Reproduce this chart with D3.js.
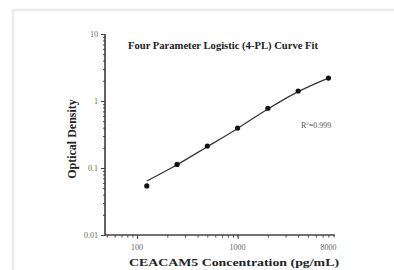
<!DOCTYPE html>
<html>
<head>
<meta charset="utf-8">
<script src="https://cdn.jsdelivr.net/npm/d3@7"></script>
<style>
body { margin: 0; background: #fff; }
svg { display: block; }
text { font-family: "Liberation Serif", "DejaVu Serif", serif; }
</style>
</head>
<body>
<div id="chart"></div>
<script>
// standard points
const concentrations = [125, 250, 500, 1000, 2000, 4000, 8000];
const odValues = [0.054, 0.113, 0.213, 0.395, 0.78, 1.41, 2.2];
// fitted curve, read at the same concentrations
const fitValues = [0.064, 0.112, 0.208, 0.39, 0.76, 1.38, 2.2];
const yTicks = [0.01, 0.1, 1, 10];
const yTickLabels = ["0.01", "0.1", "1", "10"];
const xTickLabels = ["100", "1000", "8000"];
const xTickValues = [100, 1000, 8000];

const W = 394, H = 270;
const margin = {top: 34, right: 59, bottom: 35, left: 105};

const svg = d3.select("#chart").append("svg")
    .attr("width", W).attr("height", H);

// light frame around the picture
svg.append("path")
    .attr("d", `M13,${H} L13,10 L${W},10`)
    .attr("fill", "none").attr("stroke", "#ebebeb").attr("stroke-width", 2.5);

const x = d3.scaleLog().domain([48, 9300]).range([margin.left, W - margin.right]);
const y = d3.scaleLog().domain([0.01, 10]).range([H - margin.bottom, margin.top]);

// minor ticks
const xMinor = [];
for (let d = 10; d <= 1000; d *= 10)
    for (let k = 1; k < 10; k++) {
        const v = d * k;
        if (v >= 50 && v <= 9000) xMinor.push(v);
    }
const yMinor = [];
for (let d = 0.01; d < 10; d *= 10)
    for (let k = 2; k < 10; k++) yMinor.push(d * k);

const axisColor = "#444";

const gx = svg.append("g").attr("transform", `translate(0,${y(0.01)})`);
gx.call(d3.axisBottom(x).tickValues(xMinor).tickSize(2.5).tickFormat(""));
gx.append("g").call(d3.axisBottom(x).tickValues([100, 1000]).tickSize(4).tickFormat(""));
gx.selectAll("path.domain").attr("d", `M${x(48)},0H${x(9300)}`).attr("stroke", axisColor).attr("stroke-width", 1.2);
gx.selectAll("line").attr("stroke", axisColor);
gx.selectAll(".xlab").data(xTickValues).join("text")
    .attr("x", d => x(d)).attr("y", 15)
    .attr("text-anchor", "middle").attr("font-size", 8).attr("fill", "#666")
    .text((d, i) => xTickLabels[i]);

const gy = svg.append("g").attr("transform", `translate(${margin.left},0)`);
gy.call(d3.axisLeft(y).tickValues(yMinor).tickSize(2).tickFormat(""));
gy.append("g").call(d3.axisLeft(y).tickValues(yTicks).tickSize(4).tickFormat(""));
gy.selectAll("path.domain").attr("d", `M0,${y(0.01)}V${y(10)}`).attr("stroke", axisColor).attr("stroke-width", 1.2);
gy.selectAll("line").attr("stroke", axisColor);
gy.selectAll(".ylab").data(yTicks).join("text")
    .attr("x", -7).attr("y", d => y(d) + 2.5)
    .attr("text-anchor", "end").attr("font-size", 8).attr("fill", "#666")
    .text((d, i) => yTickLabels[i]);

// fitted curve
const line = d3.line()
    .x(d => x(d[0])).y(d => y(d[1]))
    .curve(d3.curveMonotoneX);
svg.append("path")
    .datum(concentrations.map((c, i) => [c, fitValues[i]]))
    .attr("fill", "none").attr("stroke", "#333").attr("stroke-width", 1.2)
    .attr("d", line);

// standard points
svg.selectAll(".pt").data(concentrations).join("circle")
    .attr("cx", d => x(d)).attr("cy", (d, i) => y(odValues[i]))
    .attr("r", 2.6).attr("fill", "#111");

// title and labels
svg.append("text")
    .attr("x", 223).attr("y", 49).attr("text-anchor", "middle")
    .attr("font-size", 10.5).attr("font-weight", "bold").attr("fill", "#222")
    .attr("textLength", 190).attr("lengthAdjust", "spacingAndGlyphs")
    .text("Four Parameter Logistic (4-PL) Curve Fit");

const r2 = svg.append("text")
    .attr("x", 301).attr("y", 128).attr("font-size", 8).attr("fill", "#555");
r2.append("tspan").text("R");
r2.append("tspan").attr("dy", -3).attr("font-size", 5).text("2");
r2.append("tspan").attr("dy", 3).text("=0.999");

svg.append("text")
    .attr("transform", `translate(76,139) rotate(-90)`)
    .attr("text-anchor", "middle").attr("font-size", 12).attr("font-weight", "bold").attr("fill", "#222")
    .text("Optical Density");

svg.append("text")
    .attr("x", 234).attr("y", 266).attr("text-anchor", "middle")
    .attr("font-size", 11).attr("font-weight", "bold").attr("fill", "#222")
    .attr("textLength", 210).attr("lengthAdjust", "spacingAndGlyphs")
    .text("CEACAM5 Concentration (pg/mL)");
</script>
</body>
</html>
